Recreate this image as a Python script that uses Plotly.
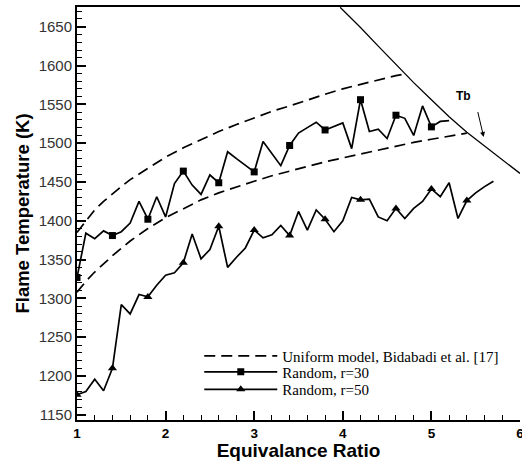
import plotly.graph_objects as go

# ---- data ----
x_r30 = [1.0, 1.1, 1.2, 1.3, 1.4, 1.5, 1.6, 1.7, 1.8, 1.9, 2.0, 2.1, 2.2, 2.3, 2.4, 2.5, 2.6, 2.7, 2.8, 2.9,
         3.0, 3.1, 3.2, 3.3, 3.4, 3.5, 3.6, 3.7, 3.8, 3.9, 4.0, 4.1, 4.2, 4.3, 4.4, 4.5, 4.6, 4.7, 4.8, 4.9,
         5.0, 5.1, 5.2]
y_r30 = [1327, 1384, 1377, 1387, 1381, 1386, 1397, 1425, 1402, 1431, 1405, 1448, 1464, 1446, 1434, 1459, 1449, 1489, 1480, 1472,
         1463, 1502, 1487, 1471, 1497, 1513, 1520, 1527, 1517, 1521, 1526, 1493, 1556, 1515, 1518, 1506, 1536, 1532, 1510, 1548,
         1521, 1528, 1529]
x_r50 = [1.0, 1.1, 1.2, 1.3, 1.4, 1.5, 1.6, 1.7, 1.8, 1.9, 2.0, 2.1, 2.2, 2.3, 2.4, 2.5, 2.6, 2.7, 2.8, 2.9,
         3.0, 3.1, 3.2, 3.3, 3.4, 3.5, 3.6, 3.7, 3.8, 3.9, 4.0, 4.1, 4.2, 4.3, 4.4, 4.5, 4.6, 4.7, 4.8, 4.9,
         5.0, 5.1, 5.2, 5.3, 5.4, 5.5, 5.6, 5.7]
y_r50 = [1176, 1180, 1196, 1181, 1210, 1292, 1280, 1305, 1302, 1317, 1330, 1333, 1346, 1383, 1351, 1363, 1393, 1340, 1353, 1365,
         1388, 1378, 1382, 1394, 1381, 1412, 1388, 1414, 1402, 1386, 1400, 1430, 1427, 1428, 1405, 1400, 1416, 1403, 1416, 1425,
         1441, 1431, 1449, 1403, 1426, 1436, 1444, 1451]
marker_x = [1.0, 1.4, 1.8, 2.2, 2.6, 3.0, 3.4, 3.8, 4.2, 4.6, 5.0, 5.4]

x_up = [1.0, 1.1, 1.2, 1.3, 1.4, 1.5, 1.6, 1.8, 2.0, 2.2, 2.4, 2.6, 2.8, 3.0, 3.2, 3.4, 3.6, 3.8, 4.0, 4.2, 4.4, 4.6, 4.7]
y_up = [1385, 1400, 1414, 1425, 1435, 1444, 1453, 1468, 1482, 1494, 1505, 1515, 1524, 1533, 1541, 1548, 1556, 1563, 1570, 1576, 1582, 1587, 1589]
x_lo = [1.0, 1.1, 1.2, 1.4, 1.6, 1.8, 2.0, 2.2, 2.4, 2.6, 2.8, 3.0, 3.2, 3.4, 3.6, 3.8, 4.0, 4.2, 4.4, 4.6, 4.8, 5.0, 5.2, 5.4]
y_lo = [1308, 1322, 1334, 1355, 1374, 1390, 1404, 1416, 1427, 1436, 1444, 1451, 1458, 1464, 1470, 1476, 1481, 1486, 1491, 1496, 1501, 1505, 1509, 1513]

x_tb = [3.97, 4.2, 4.4, 4.6, 4.8, 5.0, 5.2, 5.4, 5.6, 5.8, 6.0]
y_tb = [1675, 1649, 1625, 1601, 1578, 1556, 1534, 1514, 1496, 1478, 1461]

legend_names = ["Uniform model, Bidabadi et al. [17]", "Random, r=30", "Random, r=50"]
x_ticks = [1, 2, 3, 4, 5, 6]
y_ticks = [1150, 1200, 1250, 1300, 1350, 1400, 1450, 1500, 1550, 1600, 1650]


def at_markers(xs, ys):
    pairs = [(a, b) for a, b in zip(xs, ys) if round(a, 2) in marker_x]
    return [p[0] for p in pairs], [p[1] for p in pairs]


LW = 1.7
DASH = "11px,6px"
sq = dict(symbol="square", color="black", size=7, line=dict(width=0))
tri = dict(symbol="triangle-up", color="black", size=8, line=dict(width=0))

fig = go.Figure()
fig.add_trace(go.Scatter(x=x_up, y=y_up, mode="lines", showlegend=False,
                         line=dict(color="black", width=LW, dash=DASH)))
fig.add_trace(go.Scatter(x=x_lo, y=y_lo, mode="lines", showlegend=False,
                         line=dict(color="black", width=LW, dash=DASH)))
fig.add_trace(go.Scatter(x=x_r30, y=y_r30, mode="lines", showlegend=False,
                         line=dict(color="black", width=LW)))
mx, my = at_markers(x_r30, y_r30)
fig.add_trace(go.Scatter(x=mx, y=my, mode="markers", showlegend=False, marker=sq))
fig.add_trace(go.Scatter(x=x_r50, y=y_r50, mode="lines", showlegend=False,
                         line=dict(color="black", width=LW)))
mx, my = at_markers(x_r50, y_r50)
fig.add_trace(go.Scatter(x=mx, y=my, mode="markers", showlegend=False, marker=tri))
fig.add_trace(go.Scatter(x=x_tb, y=y_tb, mode="lines", showlegend=False,
                         line=dict(color="black", width=1.3)))

# legend entries (one legend per row for exact placement)
fig.add_trace(go.Scatter(x=[None], y=[None], mode="lines", name=legend_names[0], legend="legend",
                         line=dict(color="black", width=LW, dash=DASH)))
fig.add_trace(go.Scatter(x=[None], y=[None], mode="lines+markers", name=legend_names[1], legend="legend2",
                         line=dict(color="black", width=LW), marker=sq))
fig.add_trace(go.Scatter(x=[None], y=[None], mode="lines+markers", name=legend_names[2], legend="legend3",
                         line=dict(color="black", width=LW), marker=tri))

fig.add_annotation(x=5.36, y=1561, text="<b>Tb</b>", showarrow=False,
                   font=dict(family="Liberation Sans, Arial", size=12, color="black"))
fig.add_annotation(x=5.59, y=1508, ax=5.52, ay=1542, axref="x", ayref="y", text="",
                   showarrow=True, arrowhead=2, arrowsize=1, arrowwidth=1, arrowcolor="black")

leg_font = dict(family="Liberation Serif, Times New Roman", size=15, color="black")


def leg(y):
    return dict(x=0.276, y=y, xanchor="left", yanchor="top", bgcolor="rgba(0,0,0,0)",
                font=leg_font, itemwidth=73, borderwidth=0)


fig.update_layout(
    width=522, height=461,
    margin=dict(l=77, r=2, t=7, b=41),
    plot_bgcolor="white", paper_bgcolor="white",
    showlegend=True,
    legend=leg(0.1945), legend2=leg(0.156), legend3=leg(0.1135),
    xaxis=dict(range=[1, 6], tickvals=x_ticks, ticktext=[str(v) for v in x_ticks],
               ticks="inside", ticklen=9, tickwidth=2, tickcolor="black",
               minor=dict(dtick=0.2, ticks="inside", ticklen=5, tickwidth=1, tickcolor="black"),
               showline=True, linecolor="black", linewidth=2, mirror=True,
               showgrid=False, zeroline=False, ticklabeloverflow="allow", automargin=False,
               tickfont=dict(family="Liberation Sans, Arial", size=13.5, color="black", weight="bold"),
               title=dict(text="<b>Equivalance Ratio</b>", standoff=3,
                          font=dict(family="Liberation Sans, Arial", size=19, color="black"))),
    yaxis=dict(range=[1143.4, 1675.4], tickvals=y_ticks, ticktext=[str(v) for v in y_ticks],
               ticks="inside", ticklen=9, tickwidth=2, tickcolor="black",
               minor=dict(dtick=10, ticks="inside", ticklen=5, tickwidth=1, tickcolor="black"),
               showline=True, linecolor="black", linewidth=2,
               showgrid=False, zeroline=False, automargin=False,
               tickfont=dict(family="Liberation Sans, Arial", size=15, color="#333333"),
               title=dict(text="<b>Flame Temperature (K)</b>", standoff=4,
                          font=dict(family="Liberation Sans, Arial", size=18.5, color="black"))),
)

fig.write_html("out.html")
